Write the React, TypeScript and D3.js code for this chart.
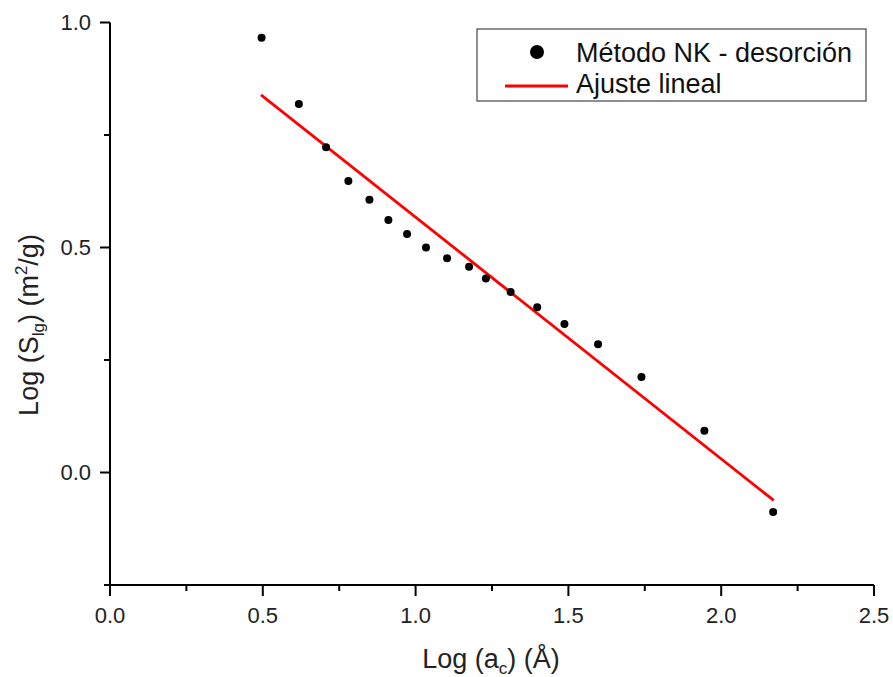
import React from "react";
import * as d3 from "d3";

const xValues = [0.496, 0.618, 0.707, 0.780, 0.849, 0.911, 0.972, 1.034, 1.103, 1.175, 1.230, 1.311, 1.398, 1.487, 1.597, 1.739, 1.945, 2.170];
const yValues = [0.966, 0.819, 0.723, 0.648, 0.606, 0.561, 0.530, 0.500, 0.476, 0.457, 0.431, 0.401, 0.367, 0.330, 0.285, 0.212, 0.093, -0.088];
const fitX = [0.494, 2.172];
const fitY = [0.839, -0.062];
const xMajorTicks = [0, 0.5, 1.0, 1.5, 2.0, 2.5];
const xMinorTicks = [0.25, 0.75, 1.25, 1.75, 2.25];
const yMajorTicks = [0, 0.5, 1.0];
const yMinorTicks = [-0.25, 0.25, 0.75];
const legendLabels = ["Método NK - desorción", "Ajuste lineal"];

const W = 893;
const H = 677;
const FONT = "'Liberation Sans', Arial, sans-serif";

export default function App() {
  const x = d3.scaleLinear().domain([0, 2.5]).range([110, 874]);
  const y = d3.scaleLinear().domain([-0.25, 1.0]).range([585, 22.5]);
  const line = d3
    .line<number>()
    .x((_, i) => x(fitX[i]))
    .y((d) => y(d));
  const fmt = d3.format(".1f");
  const [x0, x1] = x.range();
  const [y0, y1] = y.range();

  return (
    <svg
      width={W}
      height={H}
      style={{ position: "absolute", left: 0, top: 0, background: "#fff" }}
      fontFamily={FONT}
    >
      <rect width={W} height={H} fill="#fff" />
      {/* fit line */}
      <path d={line(fitY) || ""} fill="none" stroke="#ff0000" strokeWidth={2.8} />
      {/* points */}
      {xValues.map((xv, i) => (
        <circle key={i} cx={x(xv)} cy={y(yValues[i])} r={4} fill="#000" />
      ))}
      {/* axes */}
      <line x1={x0} x2={x1} y1={y0} y2={y0} stroke="#000" strokeWidth={2} />
      <line x1={x0} x2={x0} y1={y0 + 1} y2={y1} stroke="#000" strokeWidth={2} />
      {xMajorTicks.map((t) => (
        <g key={"xM" + t}>
          <line x1={x(t)} x2={x(t)} y1={y0} y2={y0 + 11} stroke="#000" strokeWidth={2} />
          <text x={x(t)} y={622.5} textAnchor="middle" fontSize={22} fill="#222">
            {fmt(t)}
          </text>
        </g>
      ))}
      {xMinorTicks.map((t) => (
        <line key={"xm" + t} x1={x(t)} x2={x(t)} y1={y0} y2={y0 + 6} stroke="#000" strokeWidth={2} />
      ))}
      {yMajorTicks.map((t) => (
        <g key={"yM" + t}>
          <line x1={x0} x2={x0 - 10} y1={y(t)} y2={y(t)} stroke="#000" strokeWidth={2} />
          <text x={91} y={y(t)} dy="0.36em" textAnchor="end" fontSize={22} fill="#222">
            {fmt(t)}
          </text>
        </g>
      ))}
      {yMinorTicks.map((t) => (
        <line key={"ym" + t} x1={x0} x2={x0 - 6} y1={y(t)} y2={y(t)} stroke="#000" strokeWidth={2} />
      ))}
      {/* x title */}
      <text x={491} y={668} textAnchor="middle" fontSize={27} fill="#222">
        Log (a
        <tspan fontSize={17} dy={6}>c</tspan>
        <tspan dy={-6}>) (Å)</tspan>
      </text>
      {/* y title */}
      <text
        transform="translate(38,325) rotate(-90)"
        textAnchor="middle"
        fontSize={27}
        fill="#222"
      >
        Log (S
        <tspan fontSize={17} dy={6}>lg</tspan>
        <tspan dy={-6}>) (m</tspan>
        <tspan fontSize={17} dy={-11}>2</tspan>
        <tspan dy={11}>/g)</tspan>
      </text>
      {/* legend */}
      <rect x={477} y={29} width={389} height={72} fill="#fff" stroke="#444" strokeWidth={1.2} />
      <circle cx={537} cy={52} r={7} fill="#000" />
      <text x={576} y={61.5} fontSize={27} fill="#111">
        {legendLabels[0]}
      </text>
      <line x1={505} x2={568} y1={86} y2={86} stroke="#ff0000" strokeWidth={2.8} />
      <text x={576} y={92.5} fontSize={27} fill="#111">
        {legendLabels[1]}
      </text>
    </svg>
  );
}
